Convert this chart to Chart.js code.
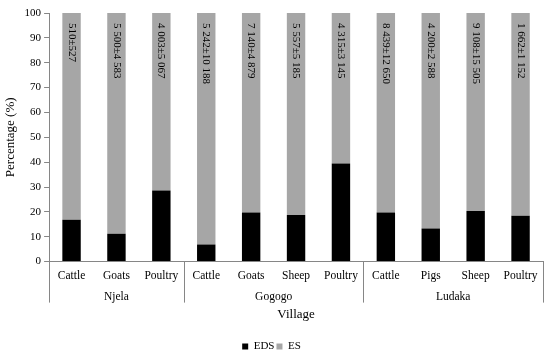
<!DOCTYPE html>
<html>
<head>
<meta charset="utf-8">
<script src="https://cdn.jsdelivr.net/npm/chart.js@4"></script>
<style>
html,body{margin:0;padding:0;background:#fff;}
#wrap{width:550px;height:354px;}
</style>
</head>
<body>
<div id="wrap"><canvas id="c" width="550" height="354"></canvas></div>
<script>
const categories = ["Cattle","Goats","Poultry","Cattle","Goats","Sheep","Poultry","Cattle","Pigs","Sheep","Poultry"];
const villages = ["Njela","Gogogo","Ludaka"];
const villageSizes = [3,4,4];
const edsValues = [16.8,11.2,28.6,6.9,19.8,18.7,39.5,19.8,13.3,20.4,18.4];
const esValues = edsValues.map(v => 100 - v);
const barLabels = ["510±527","5 500±4 583","4 003±5 067","5 242±10 188","7 140±4 879","5 557±5 185","4 315±3 145","8 439±12 650","4 200±2 588","9 108±15 505","1 662±1 152"];
const yTicks = [0,10,20,30,40,50,60,70,80,90,100];

const FONT = "'Liberation Serif','Times New Roman',serif";
const AXIS = '#868686';

const groupPlugin = {
  id: 'groups',
  afterDraw(chart) {
    const ctx = chart.ctx;
    const x = chart.scales.x;
    const area = chart.chartArea;
    const step = x.getPixelForValue(1) - x.getPixelForValue(0);
    ctx.save();
    ctx.strokeStyle = AXIS;
    ctx.lineWidth = 1;
    let start = 0;
    const bounds = [area.left];
    villageSizes.forEach((n, gi) => {
      const end = start + n - 1;
      const right = x.getPixelForValue(end) + step / 2;
      bounds.push(right);
      const cx = (x.getPixelForValue(start) + x.getPixelForValue(end)) / 2;
      ctx.fillStyle = '#000';
      ctx.font = '11.5px ' + FONT;
      ctx.textAlign = 'center';
      ctx.textBaseline = 'middle';
      ctx.fillText(villages[gi], cx, area.bottom + 35);
      start += n;
    });
    bounds.forEach(b => {
      const bx = Math.round(b) + 0.5;
      ctx.beginPath();
      ctx.moveTo(bx, area.bottom);
      ctx.lineTo(bx, area.bottom + 41);
      ctx.stroke();
    });
    // bar value labels
    const meta = chart.getDatasetMeta(1);
    ctx.font = '11px ' + FONT;
    ctx.fillStyle = '#000';
    ctx.textAlign = 'left';
    ctx.textBaseline = 'middle';
    meta.data.forEach((bar, i) => {
      ctx.save();
      ctx.translate(bar.x, bar.y + 10);
      ctx.rotate(Math.PI / 2);
      ctx.fillText(barLabels[i], 0, 0);
      ctx.restore();
    });
    ctx.restore();
  }
};

new Chart(document.getElementById('c'), {
  type: 'bar',
  data: {
    labels: categories,
    datasets: [
      { label: 'EDS', data: edsValues, backgroundColor: '#000000', barPercentage: 0.41, categoryPercentage: 1 },
      { label: 'ES', data: esValues, backgroundColor: '#a6a6a6', barPercentage: 0.41, categoryPercentage: 1 }
    ]
  },
  options: {
    responsive: false,
    animation: false,
    devicePixelRatio: 1,
    layout: { padding: { left: 0, right: 7, top: 13, bottom: -8 } },
    plugins: {
      legend: {
        position: 'bottom',
        labels: { font: { family: FONT, size: 11 }, color: '#000', boxWidth: 6, boxHeight: 6, padding: 2 }
      },
      tooltip: { enabled: false }
    },
    scales: {
      x: {
        stacked: true,
        grid: { display: false, drawTicks: false },
        border: { color: AXIS },
        ticks: { font: { family: FONT, size: 11.5 }, color: '#000', padding: 7, maxRotation: 0, autoSkip: false },
        title: { display: true, text: 'Village', font: { family: FONT, size: 13 }, color: '#000', padding: { top: 17, bottom: 17 } }
      },
      y: {
        stacked: true,
        min: 0, max: 100,
        afterBuildTicks(scale) { scale.ticks = yTicks.map(v => ({ value: v })); },
        grid: { drawOnChartArea: false, tickLength: 5, color: AXIS },
        border: { color: AXIS },
        ticks: { font: { family: FONT, size: 11 }, color: '#000', padding: 3 },
        title: { display: true, text: 'Percentage (%)', font: { family: FONT, size: 13 }, color: '#000', padding: 3 }
      }
    }
  },
  plugins: [groupPlugin]
});
</script>
</body>
</html>
